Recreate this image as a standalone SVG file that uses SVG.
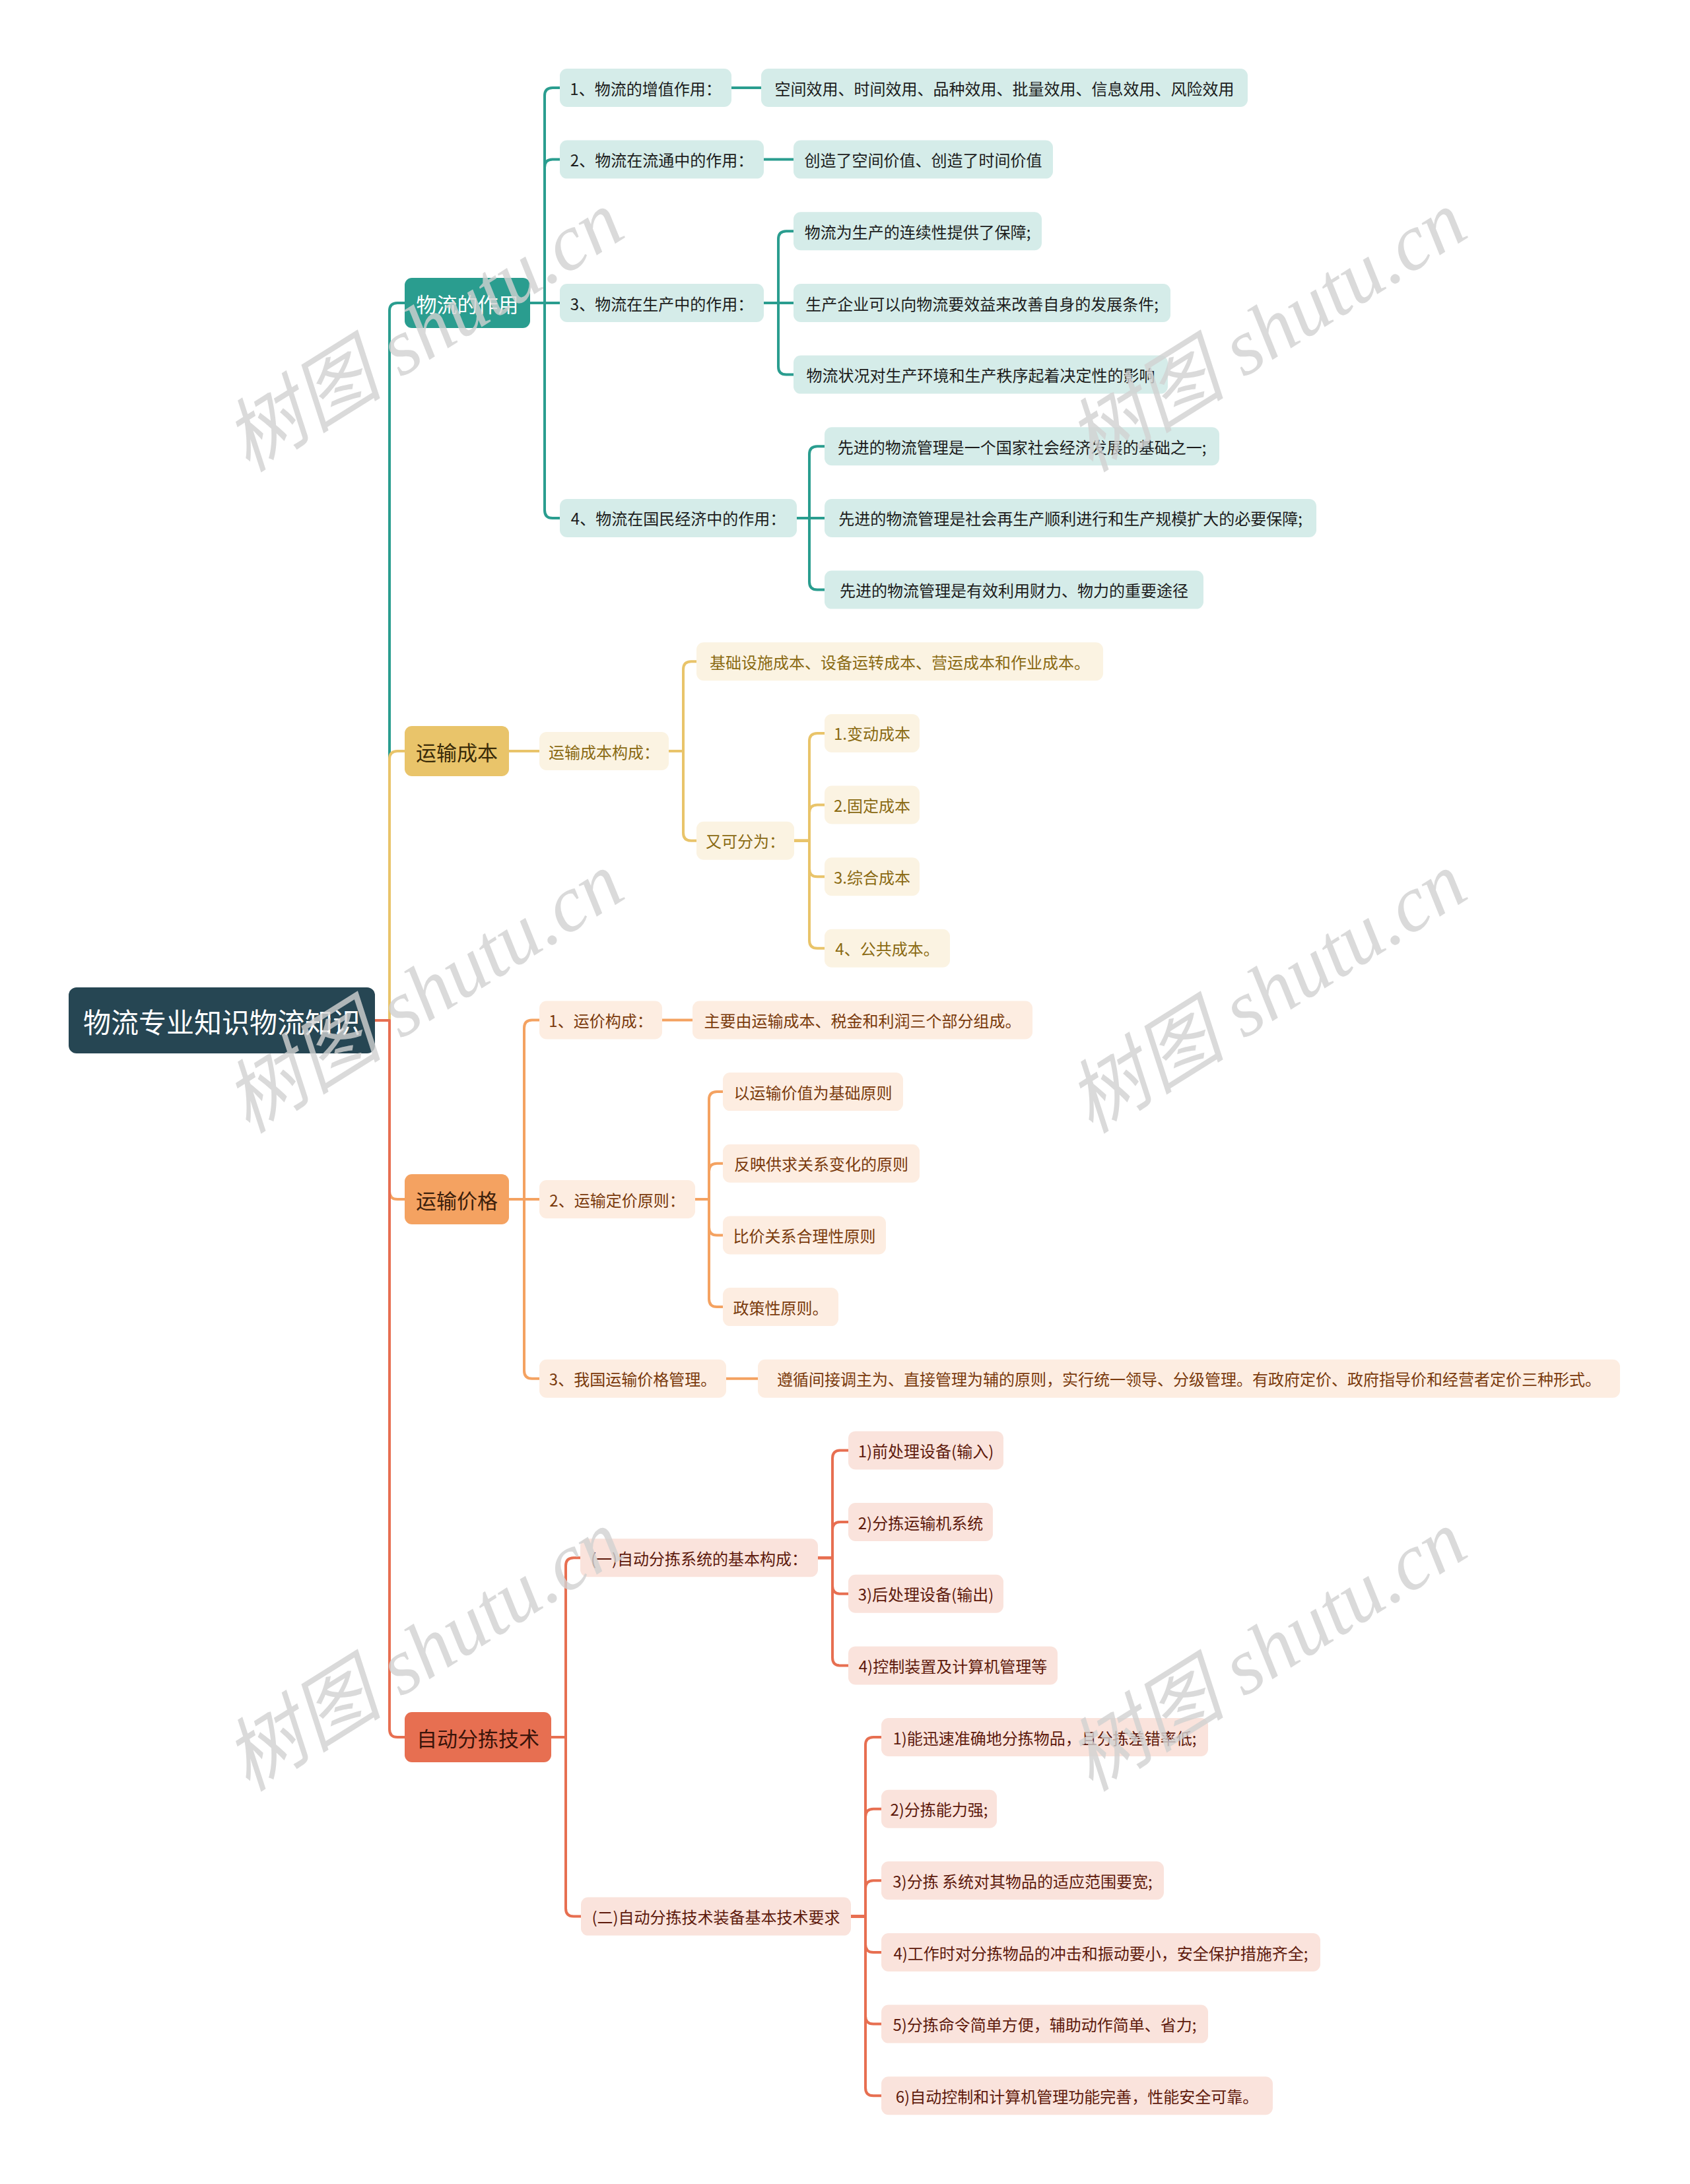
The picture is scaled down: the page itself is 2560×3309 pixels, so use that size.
<svg xmlns="http://www.w3.org/2000/svg" width="2560" height="3309" viewBox="0 0 2560 3309">
<style>
text{font-family:"Noto Sans CJK SC","Noto Sans",sans-serif;dominant-baseline:central;text-anchor:middle}
.lf{font-size:24px}
.mn{font-size:31px}
.rt{font-size:42px;fill:#ffffff}
.c{fill:none;stroke-width:4;stroke-linecap:round;stroke-linejoin:round}
.ct{stroke:#2A9D8F}.cy{stroke:#E9C46A}.co{stroke:#F4A261}.cr{stroke:#E76F51}
.lt rect{fill:#D5ECE9}.lt text{fill:#1c1c1c}
.ly rect{fill:#FBF3E2}.ly text{fill:#8A6A12}
.lo rect{fill:#FDEDE1}.lo text{fill:#7A3A0C}
.lr rect{fill:#FAE3DC}.lr text{fill:#5E1A0C}
.wm{font-family:"Liberation Serif","Noto Sans CJK SC",serif;font-style:italic;font-size:121px;fill:#d2d2d2;opacity:0.8}
</style>
<rect width="2560" height="3309" fill="#ffffff"/>
<g id="connectors">
<path class="c ct" d="M568 1546 H590 V471 Q590 459 602 459 H613"/>
<path class="c ct" d="M803 459 H825 V145 Q825 133 837 133 H848"/>
<path class="c ct" d="M803 459 H825 V253.6 Q825 241.6 837 241.6 H848"/>
<path class="c ct" d="M803 459 H848"/>
<path class="c ct" d="M803 459 H825 V772.9 Q825 784.9 837 784.9 H848"/>
<path class="c ct" d="M1108 133 H1153"/>
<path class="c ct" d="M1157 241.6 H1202"/>
<path class="c ct" d="M1157 459 H1179 V362.3 Q1179 350.3 1191 350.3 H1202"/>
<path class="c ct" d="M1157 459 H1202"/>
<path class="c ct" d="M1157 459 H1179 V555.6 Q1179 567.6 1191 567.6 H1202"/>
<path class="c ct" d="M1207 784.9 H1226 V688.3 Q1226 676.3 1238 676.3 H1249"/>
<path class="c ct" d="M1207 784.9 H1249"/>
<path class="c ct" d="M1207 784.9 H1226 V881.6 Q1226 893.6 1238 893.6 H1249"/>
<path class="c cy" d="M568 1546 H590 V1150 Q590 1138 602 1138 H613"/>
<path class="c cy" d="M771 1138 H817"/>
<path class="c cy" d="M1013 1138 H1035 V1014.2 Q1035 1002.2 1047 1002.2 H1055"/>
<path class="c cy" d="M1013 1138 H1035 V1261.8 Q1035 1273.8 1047 1273.8 H1055"/>
<path class="c cy" d="M1203 1273.8 H1226 V1122.9 Q1226 1110.9 1238 1110.9 H1249"/>
<path class="c cy" d="M1203 1273.8 H1226 V1231.5 Q1226 1219.5 1238 1219.5 H1249"/>
<path class="c cy" d="M1203 1273.8 H1226 V1316.2 Q1226 1328.2 1238 1328.2 H1249"/>
<path class="c cy" d="M1203 1273.8 H1226 V1424.8 Q1226 1436.8 1238 1436.8 H1249"/>
<path class="c co" d="M568 1546 H590 V1805 Q590 1817 602 1817 H613"/>
<path class="c co" d="M771 1817 H794 V1557.5 Q794 1545.5 806 1545.5 H817"/>
<path class="c co" d="M771 1817 H817"/>
<path class="c co" d="M771 1817 H794 V2076.7 Q794 2088.7 806 2088.7 H817"/>
<path class="c co" d="M1003 1545.5 H1049"/>
<path class="c co" d="M1053 1817 H1074 V1666.1 Q1074 1654.1 1086 1654.1 H1095"/>
<path class="c co" d="M1053 1817 H1074 V1774.8 Q1074 1762.8 1086 1762.8 H1095"/>
<path class="c co" d="M1053 1817 H1074 V1859.4 Q1074 1871.4 1086 1871.4 H1095"/>
<path class="c co" d="M1053 1817 H1074 V1968.1 Q1074 1980.1 1086 1980.1 H1095"/>
<path class="c co" d="M1100 2088.7 H1148"/>
<path class="c cr" d="M568 1546 H590 V2620 Q590 2632 602 2632 H613"/>
<path class="c cr" d="M835 2632 H857 V2372.3 Q857 2360.3 869 2360.3 H879"/>
<path class="c cr" d="M835 2632 H857 V2891.6 Q857 2903.6 869 2903.6 H880"/>
<path class="c cr" d="M1239 2360.3 H1261 V2209.4 Q1261 2197.4 1273 2197.4 H1285"/>
<path class="c cr" d="M1239 2360.3 H1261 V2318 Q1261 2306 1273 2306 H1285"/>
<path class="c cr" d="M1239 2360.3 H1261 V2402.7 Q1261 2414.7 1273 2414.7 H1285"/>
<path class="c cr" d="M1239 2360.3 H1261 V2511.4 Q1261 2523.4 1273 2523.4 H1285"/>
<path class="c cr" d="M1289 2903.6 H1311 V2644 Q1311 2632 1323 2632 H1335"/>
<path class="c cr" d="M1289 2903.6 H1311 V2752.7 Q1311 2740.7 1323 2740.7 H1335"/>
<path class="c cr" d="M1289 2903.6 H1311 V2861.3 Q1311 2849.3 1323 2849.3 H1335"/>
<path class="c cr" d="M1289 2903.6 H1311 V2946 Q1311 2958 1323 2958 H1335"/>
<path class="c cr" d="M1289 2903.6 H1311 V3054.6 Q1311 3066.6 1323 3066.6 H1335"/>
<path class="c cr" d="M1289 2903.6 H1311 V3163.2 Q1311 3175.2 1323 3175.2 H1335"/>
</g>
<g id="root"><rect x="104" y="1496" width="464" height="100" rx="12" fill="#264653"/><text class="rt" x="336" y="1546">物流专业知识物流知识</text></g>
<g id="b1"><rect x="613" y="421" width="190" height="76" rx="11" fill="#2A9D8F"/><text class="mn" x="708" y="459" fill="#ffffff">物流的作用</text></g>
<g id="b2"><rect x="613" y="1100" width="158" height="76" rx="11" fill="#E9C46A"/><text class="mn" x="692" y="1138" fill="#3a2b08">运输成本</text></g>
<g id="b3"><rect x="613" y="1779" width="158" height="76" rx="11" fill="#F4A261"/><text class="mn" x="692" y="1817" fill="#3c200c">运输价格</text></g>
<g id="b4"><rect x="613" y="2594" width="222" height="76" rx="11" fill="#E76F51"/><text class="mn" x="724" y="2632" fill="#3a140a">自动分拣技术</text></g>

<g class="lt">
<g id="n1"><rect x="848" y="104" width="260" height="58" rx="11"/><text class="lf" x="978" y="133">1、物流的增值作用：</text></g>
<g id="n1a"><rect x="1153" y="104" width="737" height="58" rx="11"/><text class="lf" x="1521.5" y="133">空间效用、时间效用、品种效用、批量效用、信息效用、风险效用</text></g>
<g id="n2"><rect x="848" y="212.6" width="309" height="58" rx="11"/><text class="lf" x="1002.5" y="241.6">2、物流在流通中的作用：</text></g>
<g id="n2a"><rect x="1202" y="212.6" width="393" height="58" rx="11"/><text class="lf" x="1398.5" y="241.6">创造了空间价值、创造了时间价值</text></g>
<g id="n3"><rect x="848" y="430" width="309" height="58" rx="11"/><text class="lf" x="1002.5" y="459">3、物流在生产中的作用：</text></g>
<g id="n3a"><rect x="1202" y="321.3" width="376" height="58" rx="11"/><text class="lf" x="1390" y="350.3">物流为生产的连续性提供了保障;</text></g>
<g id="n3b"><rect x="1202" y="430" width="571" height="58" rx="11"/><text class="lf" x="1487.5" y="459">生产企业可以向物流要效益来改善自身的发展条件;</text></g>
<g id="n3c"><rect x="1202" y="538.6" width="567" height="58" rx="11"/><text class="lf" x="1485.5" y="567.6">物流状况对生产环境和生产秩序起着决定性的影响</text></g>
<g id="n4"><rect x="848" y="755.9" width="359" height="58" rx="11"/><text class="lf" x="1027.5" y="784.9">4、物流在国民经济中的作用：</text></g>
<g id="n4a"><rect x="1249" y="647.3" width="598" height="58" rx="11"/><text class="lf" x="1548" y="676.3">先进的物流管理是一个国家社会经济发展的基础之一;</text></g>
<g id="n4b"><rect x="1249" y="755.9" width="745" height="58" rx="11"/><text class="lf" x="1621.5" y="784.9">先进的物流管理是社会再生产顺利进行和生产规模扩大的必要保障;</text></g>
<g id="n4c"><rect x="1249" y="864.6" width="574" height="58" rx="11"/><text class="lf" x="1536" y="893.6">先进的物流管理是有效利用财力、物力的重要途径</text></g>
</g>

<g class="ly">
<g id="m1"><rect x="817" y="1109" width="196" height="58" rx="11"/><text class="lf" x="915" y="1138">运输成本构成：</text></g>
<g id="m1a"><rect x="1055" y="973.2" width="616" height="58" rx="11"/><text class="lf" x="1363" y="1002.2">基础设施成本、设备运转成本、营运成本和作业成本。</text></g>
<g id="m1b"><rect x="1055" y="1244.8" width="148" height="58" rx="11"/><text class="lf" x="1129" y="1273.8">又可分为：</text></g>
<g id="m1b1"><rect x="1249" y="1081.9" width="144" height="58" rx="11"/><text class="lf" x="1321" y="1110.9">1.变动成本</text></g>
<g id="m1b2"><rect x="1249" y="1190.5" width="144" height="58" rx="11"/><text class="lf" x="1321" y="1219.5">2.固定成本</text></g>
<g id="m1b3"><rect x="1249" y="1299.2" width="144" height="58" rx="11"/><text class="lf" x="1321" y="1328.2">3.综合成本</text></g>
<g id="m1b4"><rect x="1249" y="1407.8" width="190" height="58" rx="11"/><text class="lf" x="1344" y="1436.8">4、公共成本。</text></g>
</g>

<g class="lo">
<g id="p1"><rect x="817" y="1516.5" width="186" height="58" rx="11"/><text class="lf" x="910" y="1545.5">1、运价构成：</text></g>
<g id="p1a"><rect x="1049" y="1516.5" width="515" height="58" rx="11"/><text class="lf" x="1306.5" y="1545.5">主要由运输成本、税金和利润三个部分组成。</text></g>
<g id="p2"><rect x="817" y="1788" width="236" height="58" rx="11"/><text class="lf" x="935" y="1817">2、运输定价原则：</text></g>
<g id="p2a"><rect x="1095" y="1625.1" width="273" height="58" rx="11"/><text class="lf" x="1231.5" y="1654.1">以运输价值为基础原则</text></g>
<g id="p2b"><rect x="1095" y="1733.8" width="298" height="58" rx="11"/><text class="lf" x="1244" y="1762.8">反映供求关系变化的原则</text></g>
<g id="p2c"><rect x="1095" y="1842.4" width="247" height="58" rx="11"/><text class="lf" x="1218.5" y="1871.4">比价关系合理性原则</text></g>
<g id="p2d"><rect x="1095" y="1951.1" width="175" height="58" rx="11"/><text class="lf" x="1182.5" y="1980.1">政策性原则。</text></g>
<g id="p3"><rect x="817" y="2059.7" width="283" height="58" rx="11"/><text class="lf" x="958.5" y="2088.7">3、我国运输价格管理。</text></g>
<g id="p3a"><rect x="1148" y="2059.7" width="1306" height="58" rx="11"/><text class="lf" x="1801" y="2088.7">遵循间接调主为、直接管理为辅的原则，实行统一领导、分级管理。有政府定价、政府指导价和经营者定价三种形式。</text></g>
</g>

<g class="lr">
<g id="q1"><rect x="879" y="2331.3" width="360" height="58" rx="11"/><text class="lf" x="1059" y="2360.3">(一)自动分拣系统的基本构成：</text></g>
<g id="q1a"><rect x="1285" y="2168.4" width="235" height="58" rx="11"/><text class="lf" x="1402.5" y="2197.4">1)前处理设备(输入)</text></g>
<g id="q1b"><rect x="1285" y="2277" width="219" height="58" rx="11"/><text class="lf" x="1394.5" y="2306">2)分拣运输机系统</text></g>
<g id="q1c"><rect x="1285" y="2385.7" width="235" height="58" rx="11"/><text class="lf" x="1402.5" y="2414.7">3)后处理设备(输出)</text></g>
<g id="q1d"><rect x="1285" y="2494.4" width="317" height="58" rx="11"/><text class="lf" x="1443.5" y="2523.4">4)控制装置及计算机管理等</text></g>
<g id="q2"><rect x="880" y="2874.6" width="409" height="58" rx="11"/><text class="lf" x="1084.5" y="2903.6">(二)自动分拣技术装备基本技术要求</text></g>
<g id="q2a"><rect x="1335" y="2603" width="495" height="58" rx="11"/><text class="lf" x="1582.5" y="2632">1)能迅速准确地分拣物品，且分拣差错率低;</text></g>
<g id="q2b"><rect x="1335" y="2711.7" width="175" height="58" rx="11"/><text class="lf" x="1422.5" y="2740.7">2)分拣能力强;</text></g>
<g id="q2c"><rect x="1335" y="2820.3" width="428" height="58" rx="11"/><text class="lf" x="1549" y="2849.3">3)分拣 系统对其物品的适应范围要宽;</text></g>
<g id="q2d"><rect x="1335" y="2929" width="665" height="58" rx="11"/><text class="lf" x="1667.5" y="2958">4)工作时对分拣物品的冲击和振动要小，安全保护措施齐全;</text></g>
<g id="q2e"><rect x="1335" y="3037.6" width="495" height="58" rx="11"/><text class="lf" x="1582.5" y="3066.6">5)分拣命令简单方便，辅助动作简单、省力;</text></g>
<g id="q2f"><rect x="1335" y="3146.2" width="593" height="58" rx="11"/><text class="lf" x="1631.5" y="3175.2">6)自动控制和计算机管理功能完善，性能安全可靠。</text></g>
</g>

<g id="watermarks">
<text class="wm" transform="translate(642 502) rotate(-32)">树图 shutu.cn</text>
<text class="wm" transform="translate(1919 502) rotate(-32)">树图 shutu.cn</text>
<text class="wm" transform="translate(642 1504) rotate(-32)">树图 shutu.cn</text>
<text class="wm" transform="translate(1919 1504) rotate(-32)">树图 shutu.cn</text>
<text class="wm" transform="translate(642 2501) rotate(-32)">树图 shutu.cn</text>
<text class="wm" transform="translate(1919 2501) rotate(-32)">树图 shutu.cn</text>
</g>
</svg>
